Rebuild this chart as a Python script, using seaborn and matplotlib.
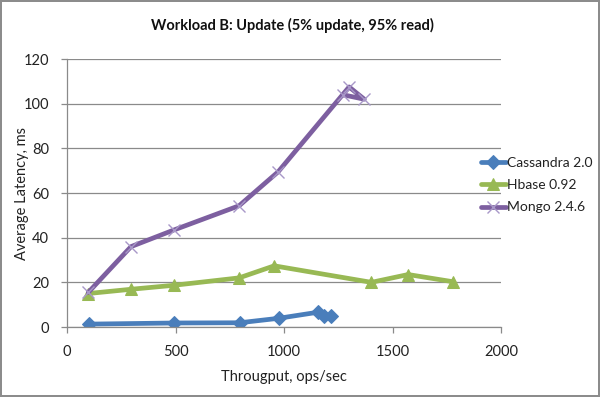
import matplotlib
matplotlib.use("Agg")
import matplotlib.pyplot as plt
import seaborn as sns
import pandas as pd

sns.set_theme(style="white")
plt.rcParams['font.family'] = ['Lato', 'DejaVu Sans']

# data
cassandra_x = [100, 495, 795, 975, 1155, 1183, 1215]
cassandra_y = [1.3, 1.8, 1.9, 3.9, 6.6, 5.0, 5.0]
hbase_x = [98, 295, 494, 793, 955, 1403, 1572, 1777]
hbase_y = [15.0, 16.9, 18.7, 22.0, 27.4, 20.0, 23.5, 20.3]
mongo_x = [98, 295, 494, 793, 973, 1300, 1370, 1272]
mongo_y = [15.5, 36.0, 43.5, 54.3, 69.5, 107.5, 102.0, 104.0]

series_names = ["Cassandra 2.0", "Hbase 0.92", "Mongo 2.4.6"]
x_ticks = [0, 500, 1000, 1500, 2000]
y_ticks = [0, 20, 40, 60, 80, 100, 120]

blue, green, purple = "#4A7EBB", "#98B954", "#7D5FA0"

fig = plt.figure(figsize=(6, 3.97), dpi=100)
fig.patch.set_edgecolor("#8c8c8c")
fig.patch.set_linewidth(1.5)
ax = fig.add_axes([0.1117, 0.1763, 0.7233, 0.675])

df_c = pd.DataFrame({"x": cassandra_x, "y": cassandra_y})
df_h = pd.DataFrame({"x": hbase_x, "y": hbase_y})
df_m = pd.DataFrame({"x": mongo_x, "y": mongo_y})

sns.lineplot(data=df_c, x="x", y="y", sort=False, ax=ax, color=blue, lw=3.4,
             marker="D", markersize=7, markeredgecolor=blue, label=series_names[0])
sns.lineplot(data=df_h, x="x", y="y", sort=False, ax=ax, color=green, lw=3.4,
             marker="^", markersize=9, markeredgecolor=green, label=series_names[1])
sns.lineplot(data=df_m, x="x", y="y", sort=False, ax=ax, color=purple, lw=3.4,
             marker="x", markersize=9, markeredgecolor="#A898C8", markeredgewidth=1,
             label=series_names[2])

ax.set_xlim(x_ticks[0], x_ticks[-1])
ax.set_ylim(y_ticks[0], y_ticks[-1])
ax.set_xticks(x_ticks)
ax.set_yticks(y_ticks)
ax.grid(axis="y", color="#8a8a8a", lw=0.9)
ax.grid(axis="x", visible=False)
ax.set_axisbelow(True)
for s in ["top", "right"]:
    ax.spines[s].set_visible(False)
for s in ["left", "bottom"]:
    ax.spines[s].set_color("#8a8a8a")
    ax.spines[s].set_linewidth(0.9)
ax.tick_params(axis="both", which="major", direction="out", length=4, width=0.9,
               color="#8a8a8a", labelsize=10.5, labelcolor="#222222", pad=9,
               bottom=True, left=True)

ax.set_xlabel("Througput, ops/sec", fontsize=10.5, color="#222222", labelpad=8)
ax.set_ylabel("Average Latency, ms", fontsize=10.5, color="#222222", va="center")
ax.yaxis.set_label_coords(-0.104, 0.5)
fig.text(0.488, 0.937, "Workload B: Update (5% update, 95% read)", ha="center",
         va="center", fontsize=10.5, fontweight="bold", color="#111111")

leg = ax.legend(loc="center left", bbox_to_anchor=(0.94, 0.53), frameon=False,
                fontsize=10, handlelength=1.8, handletextpad=0.1, labelspacing=0.75,
                borderaxespad=0)
for t in leg.get_texts():
    t.set_color("#222222")

fig.savefig("out.png", dpi=100, edgecolor=fig.get_edgecolor())
